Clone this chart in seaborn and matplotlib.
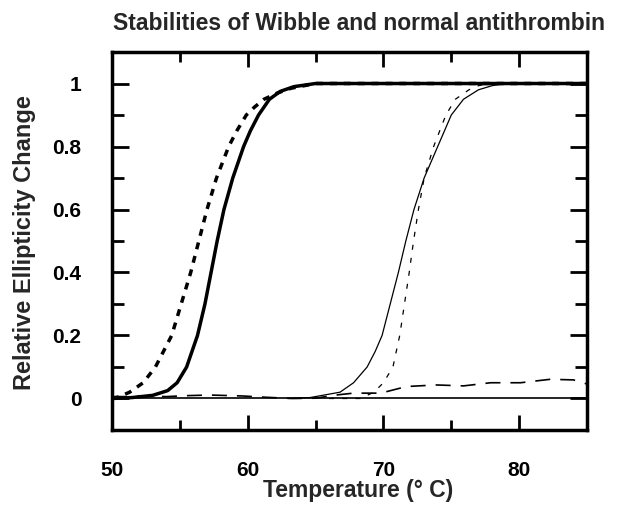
import matplotlib
matplotlib.use('Agg')
import matplotlib.pyplot as plt
from matplotlib.ticker import MultipleLocator
import seaborn as sns

# Curves (temperature in deg C, relative change)
normal_low_t = [50, 51.5, 53, 54.1, 54.8, 55.5, 56.3, 56.85, 57.3, 57.75, 58.25, 58.9, 59.7, 60.2, 60.8, 61.6, 62.4, 63.4, 65, 85]
normal_low_y = [0.0, 0.003, 0.01, 0.025, 0.05, 0.1, 0.2, 0.3, 0.4, 0.5, 0.6, 0.7, 0.8, 0.85, 0.9, 0.95, 0.975, 0.99, 1.0, 1.0]

wibble_low_t = [50, 50.5, 51.3, 52.3, 53.2, 54.4, 55.1, 55.8, 56.4, 57.0, 57.7, 58.6, 59.2, 59.9, 60.5, 61.2, 62.2, 63.2, 65, 85]
wibble_low_y = [0.0, 0.005, 0.02, 0.05, 0.1, 0.2, 0.3, 0.4, 0.5, 0.6, 0.7, 0.8, 0.85, 0.9, 0.925, 0.95, 0.97, 0.985, 1.0, 1.0]

normal_high_t = [63, 64.6, 66.8, 67.8, 68.8, 69.4, 69.9, 70.5, 71.1, 71.65, 72.25, 73.0, 74.0, 74.5, 75.0, 75.9, 77.0, 78.0, 79, 85]
normal_high_y = [0.0, 0.003, 0.02, 0.05, 0.1, 0.15, 0.2, 0.3, 0.4, 0.5, 0.6, 0.7, 0.8, 0.85, 0.9, 0.95, 0.98, 0.993, 1.0, 1.0]

wibble_high_t = [66, 68.3, 69.3, 70.0, 70.7, 71.2, 71.55, 71.9, 72.22, 72.58, 73.0, 73.7, 74.6, 75.3, 76.3, 77.0, 77.8, 85]
wibble_high_y = [0.0, 0.0, 0.02, 0.05, 0.1, 0.2, 0.3, 0.4, 0.5, 0.6, 0.7, 0.8, 0.9, 0.95, 0.98, 0.993, 1.0, 1.0]

control_t = [50, 51, 52.5, 54, 55.5, 57.2, 59.6, 61.3, 63.3, 65.0, 66.5, 67.8, 69.8, 71.7, 73.9, 75.9, 77.9, 80.1, 82.3, 84.0, 85]
control_y = [0.006, 0.006, 0.008, 0.006, 0.009, 0.011, 0.008, 0.004, 0.0, 0.001, 0.011, 0.017, 0.017, 0.038, 0.043, 0.04, 0.05, 0.05, 0.061, 0.059, 0.046]

x_ticks = [50, 60, 70, 80]
y_ticks = [0, 0.2, 0.4, 0.6, 0.8, 1]
y_tick_labels = ['0', '0.2', '0.4', '0.6', '0.8', '1']

sns.set_style('ticks')
plt.rcParams['font.family'] = ['Liberation Sans', 'DejaVu Sans']
plt.rcParams['font.weight'] = 'bold'

fig = plt.figure(figsize=(6.2, 5.18), dpi=100)
ax = fig.add_axes([0.1806, 0.1699, 0.7662, 0.7297])

# baseline
ax.axhline(0, color='black', lw=1.2, zorder=1)

sns.lineplot(x=control_t, y=control_y, ax=ax, color='black', lw=1.2,
             linestyle=(0, (9, 6)))
sns.lineplot(x=wibble_high_t, y=wibble_high_y, ax=ax, color='black', lw=0.9,
             linestyle=(0, (4, 6.5)))
sns.lineplot(x=normal_high_t, y=normal_high_y, ax=ax, color='black', lw=0.9)
sns.lineplot(x=wibble_low_t, y=wibble_low_y, ax=ax, color='black', lw=2.5,
             linestyle=(0, (2, 2)))
sns.lineplot(x=normal_low_t, y=normal_low_y, ax=ax, color='black', lw=2.5)

ax.set_xlim(50, 85)
ax.set_ylim(-0.1, 1.1)
ax.set_xticks(x_ticks)
ax.xaxis.set_minor_locator(MultipleLocator(5))
ax.set_yticks(y_ticks)
ax.set_yticklabels(y_tick_labels)
ax.yaxis.set_minor_locator(MultipleLocator(0.1))

ax.tick_params(which='both', direction='in', top=True, right=True, width=2, colors='black')
ax.tick_params(axis='x', which='major', length=11, pad=22, labelsize=15)
ax.tick_params(axis='x', which='minor', length=7)
ax.tick_params(axis='y', which='major', length=12, pad=22, labelsize=15)
ax.tick_params(axis='y', which='minor', length=8.5)
for lab in ax.get_xticklabels() + ax.get_yticklabels():
    lab.set_fontweight('bold')

for sp in ax.spines.values():
    sp.set_linewidth(2.5)
    sp.set_color('black')

ax.set_xlabel('Temperature (° C)', fontsize=16.5, fontweight='bold')
ax.xaxis.set_label_coords(0.518, -0.13)
ax.set_ylabel('Relative Ellipticity Change', fontsize=17, fontweight='bold')
ax.yaxis.set_label_coords(-0.16, 0.495)
ax.set_title('Stabilities of Wibble and normal antithrombin', fontsize=16.5,
             fontweight='bold', x=0.52, pad=16)

plt.savefig('out.png', dpi=100)
